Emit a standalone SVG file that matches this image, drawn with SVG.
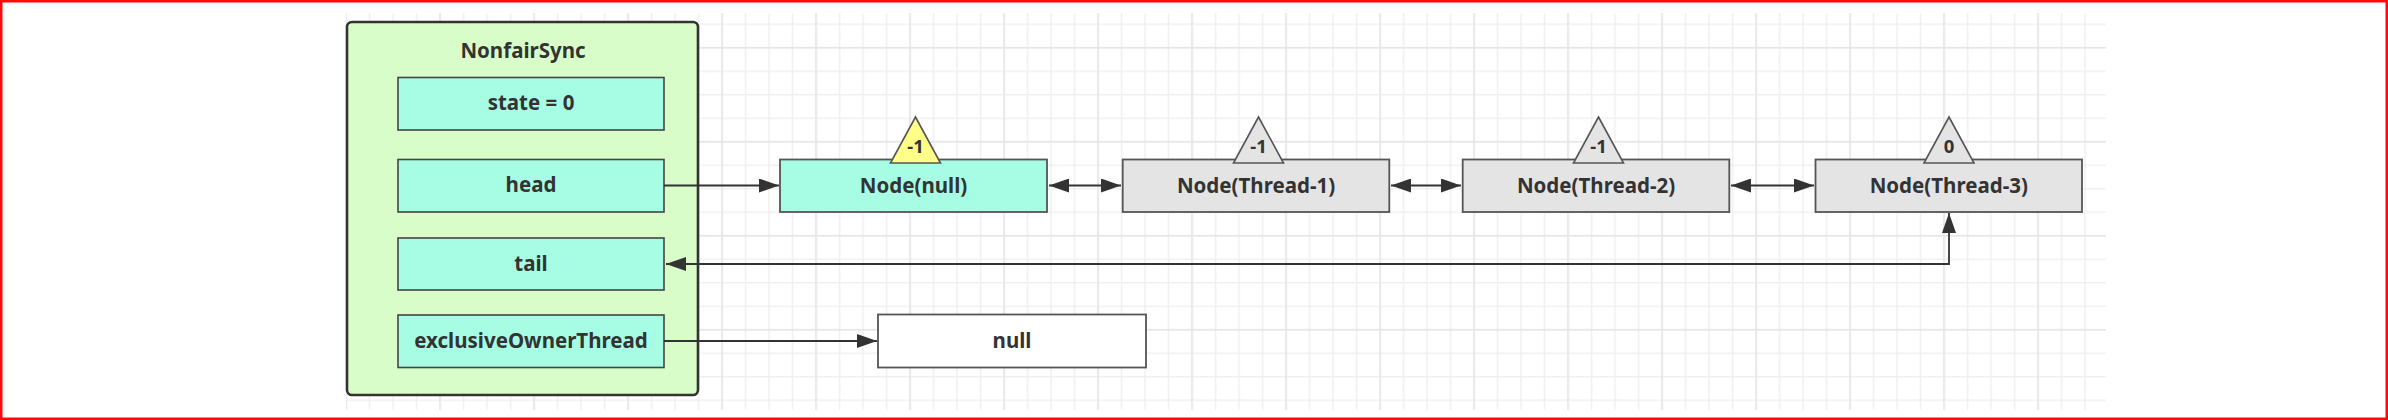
<svg xmlns="http://www.w3.org/2000/svg" width="2388" height="420" viewBox="0 0 2388 420">
  <style>
    text { font-family: "Noto Sans", "Open Sans", "DejaVu Sans", sans-serif; font-weight: bold; fill: #333; text-anchor: middle; }
    .t { font-size: 20.5px; }
    .tri-t { font-size: 18.5px; }
    .field { fill: #a6fde4; stroke: #444; stroke-width: 1.6; }
    .gnode { fill: #e4e4e4; stroke: #555; stroke-width: 1.8; }
    .cnode { fill: #a6fde4; stroke: #555; stroke-width: 1.8; }
    .wnode { fill: #ffffff; stroke: #555; stroke-width: 1.8; }
    .tri { stroke: #555; stroke-width: 1.6; stroke-linejoin: miter; }
    .conn { fill: none; stroke: #333; stroke-width: 1.8; }
  </style>
  <defs>
    <pattern id="minor" x="345.25" y="-0.05" width="23.5" height="23.5" patternUnits="userSpaceOnUse">
      <path d="M0.75 0 V23.5 M0 0.75 H23.5" stroke="#f0f0f0" stroke-width="1.5" fill="none"/>
    </pattern>
    <pattern id="major" x="345.25" y="46.95" width="94" height="94" patternUnits="userSpaceOnUse">
      <path d="M0.75 0 V94 M0 0.75 H94" stroke="#e6e6e6" stroke-width="1.5" fill="none"/>
    </pattern>
    <marker id="arr" viewBox="0 0 20 14" refX="20" refY="7" markerWidth="20" markerHeight="14" markerUnits="userSpaceOnUse" orient="auto-start-reverse">
      <path d="M0 0 L20 7 L0 14 Z" fill="#333"/>
    </marker>
  </defs>

  <rect x="0" y="0" width="2388" height="420" fill="#ffffff"/>
  <g id="grid">
    <rect x="346" y="13" width="1760" height="397" fill="url(#minor)"/>
    <rect x="346" y="13" width="1760" height="397" fill="url(#major)"/>
  </g>
  <rect x="1.25" y="1.25" width="2385.5" height="417.5" fill="none" stroke="#ff0a0a" stroke-width="2.5"/>

  <g id="NonfairSync">
    <rect x="347" y="22" width="351" height="373" rx="5" ry="5" fill="#d8fdc8" stroke="#333" stroke-width="2.6"/>
    <text class="t" x="523" y="58">NonfairSync</text>
  </g>
  <g id="state">
    <rect class="field" x="398" y="77.5" width="266" height="52.5"/>
    <text class="t" x="531" y="110">state = 0</text>
  </g>
  <g id="head">
    <rect class="field" x="398" y="159.5" width="266" height="52.5"/>
    <text class="t" x="531" y="192">head</text>
  </g>
  <g id="tail">
    <rect class="field" x="398" y="238" width="266" height="52"/>
    <text class="t" x="531" y="270.5">tail</text>
  </g>
  <g id="exclusiveOwnerThread">
    <rect class="field" x="398" y="315" width="266" height="52.5"/>
    <text class="t" x="531" y="347.5">exclusiveOwnerThread</text>
  </g>

  <g id="node-null">
    <rect class="cnode" x="780" y="159.5" width="267" height="52.5"/>
    <text class="t" x="913.5" y="192.5">Node(null)</text>
    <polygon class="tri" points="915.5,117 940.5,163 890.5,163" fill="#ffff88"/>
    <text class="tri-t" x="915.5" y="152.5">-1</text>
  </g>
  <g id="node-thread-1">
    <rect class="gnode" x="1122.7" y="159.5" width="266.6" height="52.5"/>
    <text class="t" x="1256" y="192.5">Node(Thread-1)</text>
    <polygon class="tri" points="1258.5,117 1283.5,163 1233.5,163" fill="#e4e4e4"/>
    <text class="tri-t" x="1258.5" y="152.5">-1</text>
  </g>
  <g id="node-thread-2">
    <rect class="gnode" x="1462.7" y="159.5" width="266.6" height="52.5"/>
    <text class="t" x="1596" y="192.5">Node(Thread-2)</text>
    <polygon class="tri" points="1598.5,117 1623.5,163 1573.5,163" fill="#e4e4e4"/>
    <text class="tri-t" x="1598.5" y="152.5">-1</text>
  </g>
  <g id="node-thread-3">
    <rect class="gnode" x="1815.5" y="159.5" width="266.5" height="52.5"/>
    <text class="t" x="1948.75" y="192.5">Node(Thread-3)</text>
    <polygon class="tri" points="1949,117 1974,163 1924,163" fill="#e4e4e4"/>
    <text class="tri-t" x="1949" y="152.5">0</text>
  </g>
  <g id="null">
    <rect class="wnode" x="878" y="314.5" width="268" height="53"/>
    <text class="t" x="1012" y="348">null</text>
  </g>

  <g id="connectors">
    <path class="conn" d="M664 185.5 H779" marker-end="url(#arr)"/>
    <path class="conn" d="M1049 185.5 H1121" marker-start="url(#arr)" marker-end="url(#arr)"/>
    <path class="conn" d="M1391 185.5 H1461" marker-start="url(#arr)" marker-end="url(#arr)"/>
    <path class="conn" d="M1731 185.5 H1814" marker-start="url(#arr)" marker-end="url(#arr)"/>
    <path class="conn" d="M1949 213 V264 H666" marker-start="url(#arr)" marker-end="url(#arr)"/>
    <path class="conn" d="M664 341 H877" marker-end="url(#arr)"/>
  </g>
</svg>
